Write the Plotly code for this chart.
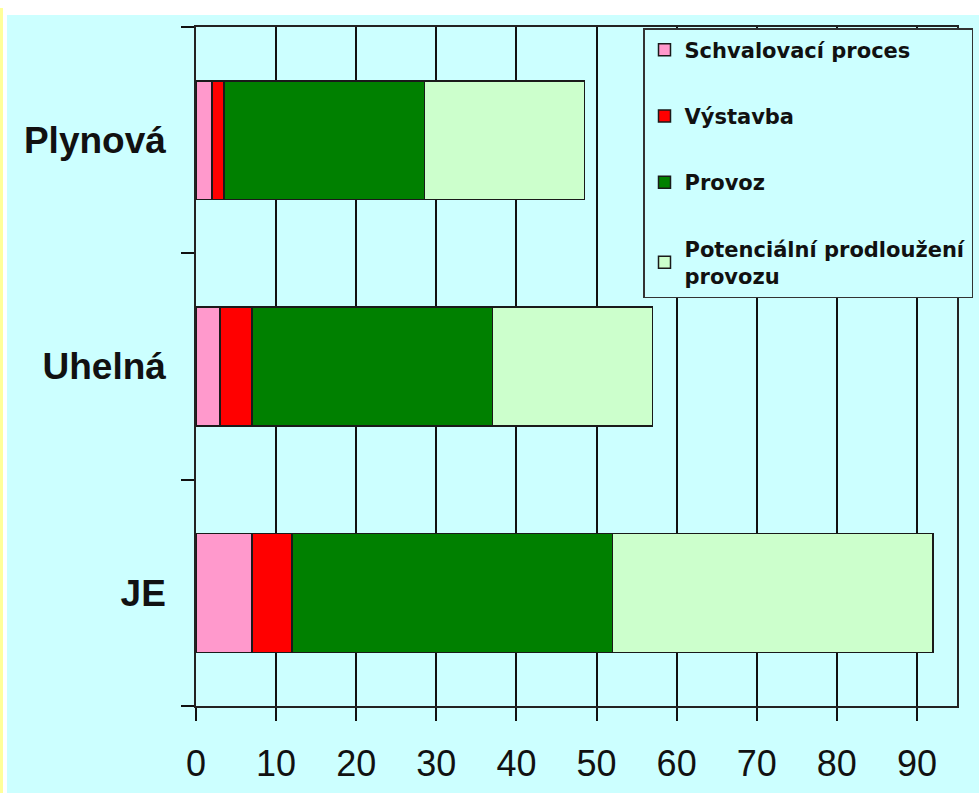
import plotly.graph_objects as go

# Lifetime phases of power plants (years)
plants = ["JE", "Uhelná", "Plynová"]
schvalovaci = [7, 3, 2]
vystavba = [5, 4, 1.5]
provoz = [40, 30, 25]
prodlouzeni = [40, 20, 20]

series = [
    ("Schvalovací proces", schvalovaci, "#FF99CC"),
    ("Výstavba", vystavba, "#FF0000"),
    ("Provoz", provoz, "#008000"),
    ("Potenciální prodloužení<br>provozu", prodlouzeni, "#CCFFCC"),
]

x_ticks = list(range(0, 100, 10))

BG = "#CCFFFF"
W, H = 979, 793
L, R, T, B = 196, 22, 27, 87
pw, ph = W - L - R, H - T - B


def px_x(p):
    return (p - L) / pw


def px_y(p):
    return (H - B - p) / ph


fig = go.Figure()
for i, (name, vals, color) in enumerate(series):
    fig.add_trace(go.Bar(
        y=plants, x=vals, name=name, orientation="h",
        marker=dict(color=color, line=dict(color="#1a1a1a", width=1.5)),
        legendgroup=f"g{i}",
    ))

# slide-like background: yellow edge, white margin, cyan panel
shapes = [
    dict(type="rect", xref="paper", yref="paper", layer="below",
         x0=px_x(0), x1=px_x(3), y0=px_y(H), y1=px_y(8),
         fillcolor="#FFFF99", line=dict(width=0)),
    dict(type="rect", xref="paper", yref="paper", layer="below",
         x0=px_x(7), x1=px_x(W), y0=px_y(H), y1=px_y(15),
         fillcolor=BG, line=dict(width=0)),
]

fig.update_layout(
    width=W, height=H,
    margin=dict(l=L, r=R, t=T, b=B, pad=0, autoexpand=False),
    paper_bgcolor="white",
    plot_bgcolor=BG,
    barmode="stack",
    bargap=0.475,
    shapes=shapes,
    showlegend=True,
    legend=dict(
        x=px_x(643), y=px_y(28), xanchor="left", yanchor="top",
        bgcolor=BG, bordercolor="#333333", borderwidth=1.5,
        font=dict(family="DejaVu Sans", size=21, color="#111111", weight="bold"),
        tracegroupgap=36,
        traceorder="grouped",
    ),
    xaxis=dict(
        range=[0, 95], tickvals=x_ticks, ticktext=[str(v) for v in x_ticks],
        showgrid=True, gridcolor="#111111", gridwidth=1.5,
        showline=True, linecolor="#222222", linewidth=1.5, mirror=True,
        ticks="outside", ticklen=13, tickcolor="#111111", tickwidth=1.5,
        tickfont=dict(family="Liberation Sans", size=36, color="#111111"),
        ticklabelstandoff=12,
        zeroline=False, fixedrange=True, automargin=False,
    ),
    yaxis=dict(
        showgrid=False,
        showline=True, linecolor="#222222", linewidth=1.5, mirror=True,
        ticks="outside", ticklen=13, tickcolor="#111111", tickwidth=1.5,
        tickson="boundaries",
        tickfont=dict(family="Liberation Sans", size=37, color="#111111", weight="bold"),
        ticklabelstandoff=21,
        fixedrange=True, automargin=False,
    ),
)

fig.write_html("out.html")
